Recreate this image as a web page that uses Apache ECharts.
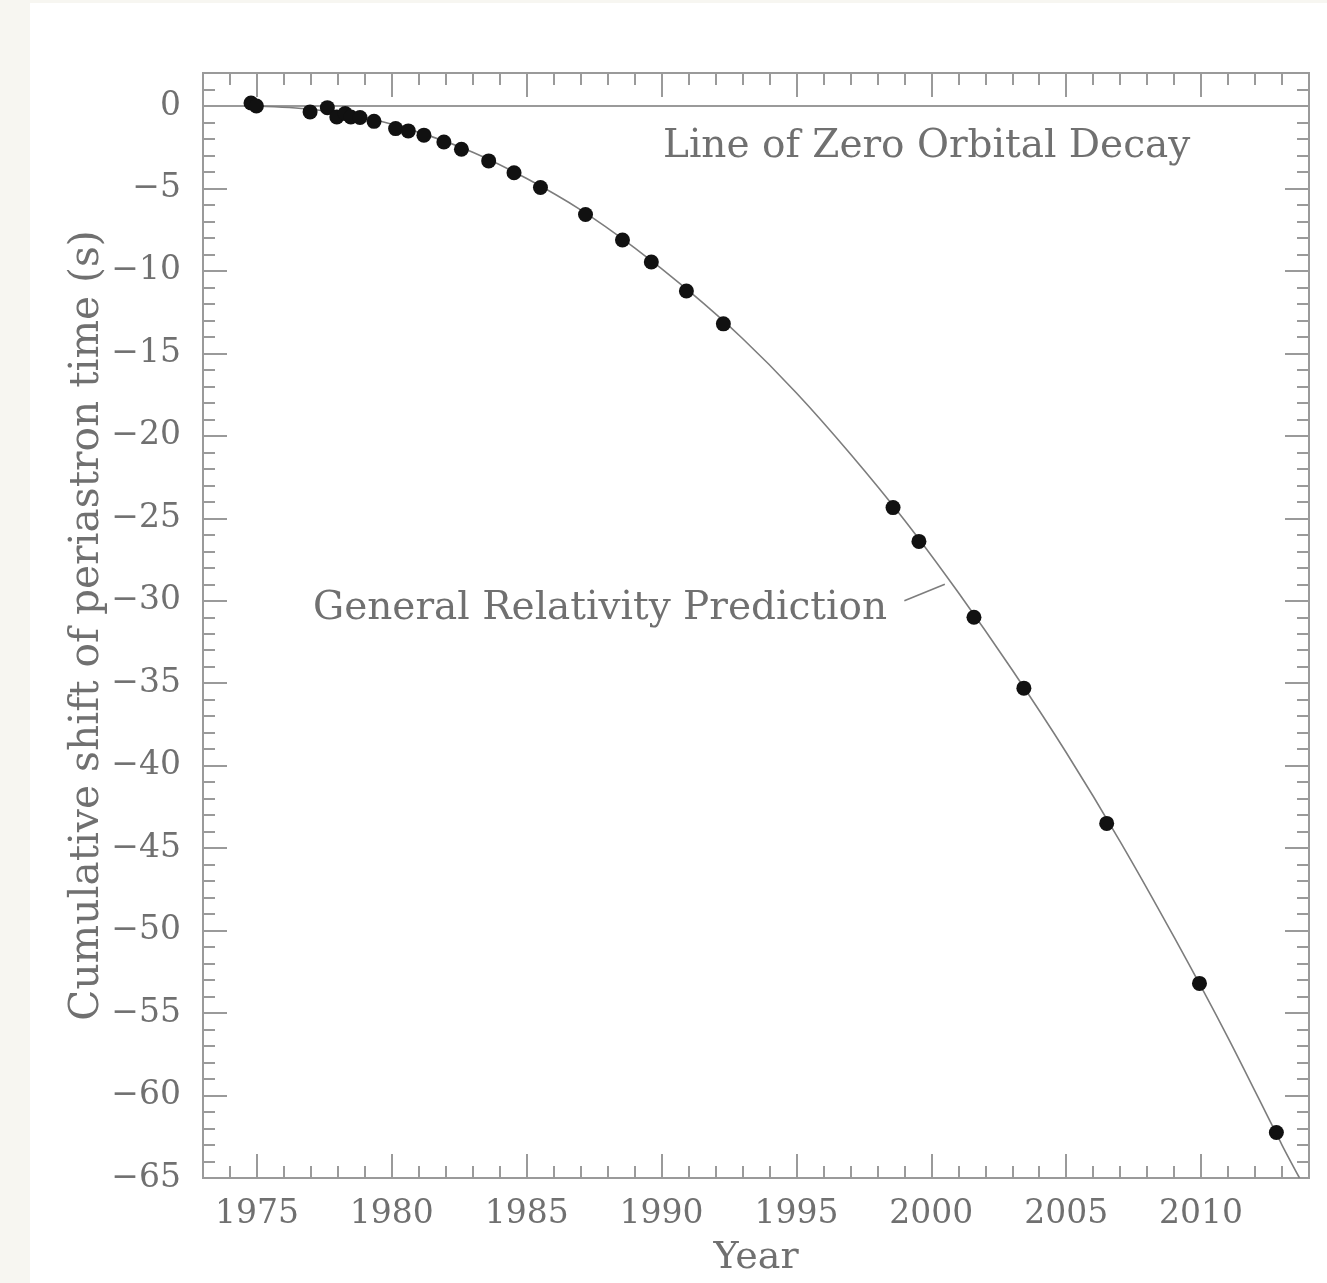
<!DOCTYPE html>
<html>
<head>
<meta charset="utf-8">
<script src="https://cdn.jsdelivr.net/npm/echarts@6/dist/echarts.min.js"></script>
<style>
  html, body { margin: 0; padding: 0; background: #f7f6f1; width: 1327px; height: 1283px; overflow: hidden; }
  #c { position: absolute; left: 30px; top: 3px; width: 1297px; height: 1280px; }
</style>
</head>
<body>
<div id="c"></div>
<script>
// Observed data points (year, cumulative shift in s)
const obsYears  = [1974.78, 1974.98, 1976.97, 1977.61, 1977.96, 1978.27, 1978.48, 1978.82, 1979.34, 1980.14, 1980.61, 1981.19, 1981.93, 1982.58, 1983.59, 1984.53, 1985.51, 1987.18, 1988.55, 1989.62, 1990.92, 1992.29, 1998.58, 1999.54, 2001.58, 2003.43, 2006.50, 2009.94, 2012.79];
const obsShift  = [0.18, 0.0, -0.36, -0.10, -0.67, -0.46, -0.67, -0.70, -0.93, -1.37, -1.51, -1.77, -2.18, -2.62, -3.33, -4.05, -4.94, -6.58, -8.13, -9.46, -11.22, -13.21, -24.35, -26.40, -31.00, -35.30, -43.50, -53.20, -62.24];

// General Relativity prediction curve
const grYears = [1975, 1977, 1979, 1981, 1983, 1985, 1987, 1989, 1991, 1993, 1995, 1997, 1999, 2001, 2003, 2005, 2007, 2009, 2011, 2013, 2013.65];
const grShift = [0, -0.2, -0.7, -1.6, -2.8, -4.4, -6.3, -8.6, -11.2, -14.1, -17.4, -21.1, -25.1, -29.5, -34.2, -39.2, -44.6, -50.4, -56.5, -63.0, -65.0];

// Zero orbital decay line and label pointer
const zeroYears = [1973, 2014];
const zeroShift = [0, 0];
const pointerYears = [1999.0, 2000.5];
const pointerShift = [-30.0, -29.0];

// Axis ticks
const xMajor = [1975, 1980, 1985, 1990, 1995, 2000, 2005, 2010];
const yMajor = [0, -5, -10, -15, -20, -25, -30, -35, -40, -45, -50, -55, -60, -65];
const xMin = 1973, xMax = 2014, yMin = -65, yMax = 2;
const xMinor = []; for (let v = xMin + 1; v < xMax; v++) xMinor.push(v);
const yMinor = []; for (let v = yMin + 1; v < yMax; v++) yMinor.push(v);

const zip = (a, b) => a.map((v, i) => [v, b[i]]);

const AX = '#9a9a9a';
const TXT = '#707070';
const FONT = '"DejaVu Serif", serif';

function xAx(pos, len, ticks, labels) {
  return {
    type: 'value', min: xMin, max: xMax, position: pos, gridIndex: 0,
    axisLine: { show: true, onZero: false, lineStyle: { color: AX, width: 2 } },
    axisTick: { show: true, inside: true, length: len, customValues: ticks, lineStyle: { color: AX, width: 2 } },
    axisLabel: labels ? { show: true, customValues: xMajor, margin: 20, color: TXT, fontSize: 33, fontFamily: FONT,
      formatter: v => String(v) } : { show: false },
    splitLine: { show: false },
    name: (labels && pos === 'bottom') ? 'Year' : '',
    nameLocation: 'middle', nameGap: 61, nameMoveOverlap: false,
    nameTextStyle: { color: TXT, fontSize: 38, fontFamily: FONT }
  };
}
function yAx(pos, len, ticks, labels) {
  return {
    type: 'value', min: yMin, max: yMax, position: pos, gridIndex: 0,
    axisLine: { show: true, onZero: false, lineStyle: { color: AX, width: 2 } },
    axisTick: { show: true, inside: true, length: len, customValues: ticks, lineStyle: { color: AX, width: 2 } },
    axisLabel: labels ? { show: true, customValues: yMajor, margin: 22, color: TXT, fontSize: 33, fontFamily: FONT,
      formatter: v => (v < 0 ? '\u2212' + Math.abs(v) : String(v)) } : { show: false },
    splitLine: { show: false },
    name: (labels && pos === 'left') ? 'Cumulative shift of periastron time (s)' : '',
    nameLocation: 'middle', nameGap: 95, nameRotate: 90, nameMoveOverlap: false,
    nameTextStyle: { color: TXT, fontSize: 40.7, fontFamily: FONT }
  };
}

const chart = echarts.init(document.getElementById('c'), null, { renderer: 'canvas' });
chart.setOption({
  backgroundColor: '#ffffff',
  animation: false,
  grid: { left: 173, top: 70, width: 1106, height: 1105, containLabel: false, outerBoundsMode: 'none' },
  xAxis: [
    xAx('bottom', 12, xMinor, true),
    xAx('bottom', 24, xMajor, false),
    xAx('top', 12, xMinor, false),
    xAx('top', 24, xMajor, false)
  ],
  yAxis: [
    yAx('left', 12, yMinor, true),
    yAx('left', 24, yMajor, false),
    yAx('right', 12, yMinor, false),
    yAx('right', 24, yMajor, false)
  ],
  series: [
    { type: 'line', name: 'zero', data: zip(zeroYears, zeroShift), symbol: 'none', silent: true,
      lineStyle: { color: AX, width: 2 }, z: 2 },
    { type: 'line', name: 'GR', data: zip(grYears, grShift), symbol: 'none', smooth: 0.3, silent: true,
      lineStyle: { color: '#7d7d7d', width: 1.6 }, z: 2 },
    { type: 'line', name: 'pointer', data: zip(pointerYears, pointerShift), symbol: 'none', silent: true,
      lineStyle: { color: '#7d7d7d', width: 1.6 }, z: 2 },
    { type: 'scatter', name: 'obs', data: zip(obsYears, obsShift), symbol: 'circle', symbolSize: 15,
      itemStyle: { color: '#111111', opacity: 1 }, z: 3 }
  ],
  graphic: [
    { type: 'text', x: 633, y: 144, style: { text: 'Line of Zero Orbital Decay', fill: TXT, font: '39px ' + FONT, textVerticalAlign: 'middle', verticalAlign: 'middle' } },
    { type: 'text', x: 283, y: 606, style: { text: 'General Relativity Prediction', fill: TXT, font: '39px ' + FONT, textVerticalAlign: 'middle', verticalAlign: 'middle' } }
  ]
});
</script>
</body>
</html>
